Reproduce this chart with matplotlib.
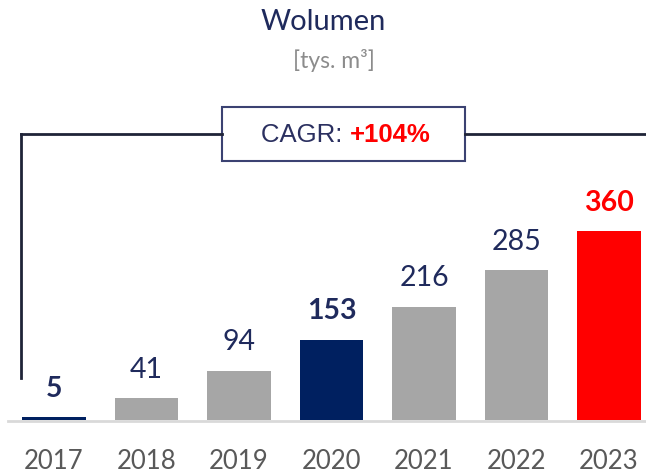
import matplotlib
matplotlib.use("Agg")
import matplotlib.pyplot as plt
from matplotlib.patches import Rectangle
from matplotlib.lines import Line2D

years = ["2017", "2018", "2019", "2020", "2021", "2022", "2023"]
values = [5, 41, 94, 153, 216, 285, 360]
bar_colors = ["#002060", "#A6A6A6", "#A6A6A6", "#002060", "#A6A6A6", "#A6A6A6", "#FF0000"]
label_colors = ["#1F2A5C", "#1F2A5C", "#1F2A5C", "#1F2A5C", "#1F2A5C", "#1F2A5C", "#FF0000"]
label_bold = [True, False, False, True, False, False, True]
title = "Wolumen"
subtitle = "[tys. m³]"
cagr_text = "CAGR: "
cagr_value = "+104%"

W, H = 646, 473
fig = plt.figure(figsize=(W / 100, H / 100), dpi=100)
font = "Lato"

base_px = 53
ax = fig.add_axes([0, base_px / H, 1, (H - base_px) / H])
step = 92.5
x0 = 54
ax.set_xlim(-x0 / step, (W - x0) / step)
ax.set_ylim(0, (H - base_px) / 0.525)
ax.axis("off")

xs = list(range(len(years)))
ax.bar(xs, values, width=0.69, color=bar_colors, zorder=3)

# baseline
fig.add_artist(Line2D([8 / W, 1], [(base_px - 1) / H] * 2, color="#D9D9D9", lw=2))

for x, v, c, b in zip(xs, values, label_colors, label_bold):
    ax.annotate(str(v), (x, v), xytext=(0, 11), textcoords="offset points",
                ha="center", va="bottom", fontsize=20.5, color=c,
                fontweight="bold" if b else "normal", family=font)

for x, y in zip(xs, years):
    fig.text((x0 + step * x) / W, 1 - 461 / H, y, ha="center", va="center",
             fontsize=18.5, color="#595959", family=font)

fig.text(323 / W, 1 - 22 / H, title, ha="center", va="center", fontsize=21,
         color="#1F2A5C", family=font)
fig.text(334 / W, 1 - 61 / H, subtitle, ha="center", va="center", fontsize=16.5,
         color="#8C8C8C", family=font)

# bracket
line_col = "#1F2438"
fig.add_artist(Line2D([21 / W, 21 / W], [1 - 378 / H, 1 - 134 / H], color=line_col, lw=2))
fig.add_artist(Line2D([21 / W, 222 / W], [1 - 134 / H] * 2, color=line_col, lw=2))
fig.add_artist(Line2D([465 / W, 1], [1 - 134 / H] * 2, color=line_col, lw=2))
fig.add_artist(Rectangle((222 / W, 1 - 161 / H), (465 - 222) / W, 54 / H,
                         transform=fig.transFigure, facecolor="white",
                         edgecolor="#3B4272", lw=1.5))
t1 = fig.text(0, 0, cagr_text, fontsize=18.5, color="#2B3060", family="Liberation Sans")
t2 = fig.text(0, 0, cagr_value, fontsize=18.5, color="#FF0000", fontweight="bold",
              family="Liberation Sans")
r = fig.canvas.get_renderer()
w1 = t1.get_window_extent(r).width
w2 = t2.get_window_extent(r).width
start = 346 - (w1 + w2) / 2
t1.set_position((start / W, 1 - 135 / H))
t1.set_va("center")
t2.set_position(((start + w1) / W, 1 - 135 / H))
t2.set_va("center")

fig.savefig("out.png", dpi=100)
